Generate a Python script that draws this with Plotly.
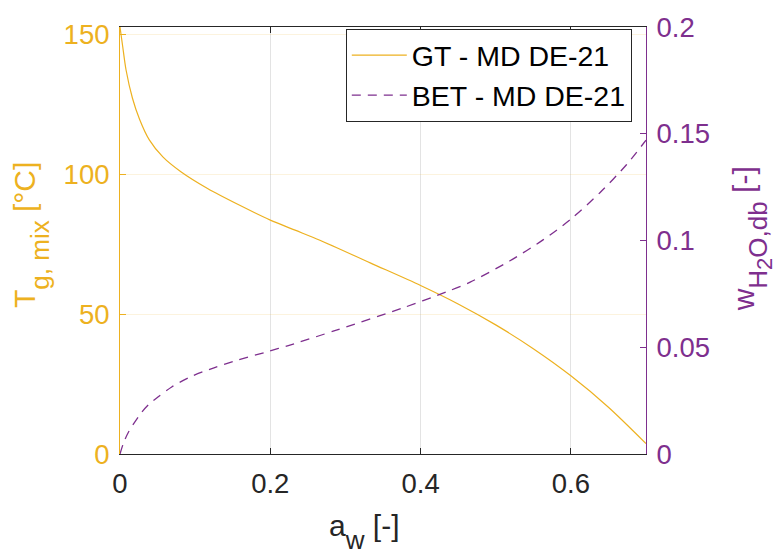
import plotly.graph_objects as go

# Glass transition temperature (Gordon-Taylor) vs water activity
aw_gt = [0.0, 0.0035, 0.008, 0.0165, 0.026, 0.039, 0.057, 0.081, 0.1165, 0.160,
         0.200, 0.233, 0.266, 0.333, 0.400, 0.450, 0.500, 0.550, 0.600, 0.650, 0.700]
tg_mix = [152.8, 146.0, 137.5, 127.4, 119.8, 112.4, 106.3, 101.0, 95.0, 88.9,
          83.7, 80.1, 76.5, 68.4, 60.3, 53.7, 46.2, 37.7, 28.0, 16.75, 3.75]

# Sorption isotherm (BET) vs water activity
aw_bet = [0.0, 0.0044, 0.011, 0.0266, 0.0377, 0.051, 0.0688, 0.0954, 0.126, 0.157,
          0.193, 0.224, 0.288, 0.377, 0.435, 0.466, 0.519, 0.563, 0.600, 0.639,
          0.674, 0.700]
w_h2o = [0.0, 0.0049, 0.0101, 0.0185, 0.0230, 0.0268, 0.0314, 0.0364, 0.0405, 0.0440,
         0.0476, 0.0508, 0.0580, 0.0685, 0.0760, 0.0805, 0.0905, 0.1003, 0.1100, 0.1225,
         0.1355, 0.1470]

x_ticks = [0, 0.2, 0.4, 0.6]
x_tick_text = ["0", "0.2", "0.4", "0.6"]
left_ticks = [0, 50, 100, 150]
right_ticks = [0, 0.05, 0.1, 0.15, 0.2]

ORANGE = "#EDB120"
PURPLE = "#7E2F8E"
DARK = "#262626"
FONT = "Liberation Sans, Arial, Helvetica, sans-serif"
TICK_SIZE = 27.5
TITLE_SIZE = 30
SUB_SIZE = 26


def sub(text, size=SUB_SIZE, drop=7):
    # subscript with a slightly larger size and deeper drop than the plotly default
    return (f'<sub><span style="font-size:{size}px;baseline-shift:-{drop}px">'
            f'{text}</span></sub>')


fig = go.Figure()
fig.add_trace(go.Scatter(
    x=aw_gt, y=tg_mix, mode="lines", name="GT - MD DE-21",
    line=dict(color=ORANGE, width=1.2, shape="spline", smoothing=0.8),
    yaxis="y"))
fig.add_trace(go.Scatter(
    x=aw_bet, y=w_h2o, mode="lines", name="BET - MD DE-21",
    line=dict(color=PURPLE, width=1.3, dash="9px,7px", shape="spline", smoothing=0.8),
    yaxis="y2"))

fig.update_layout(
    width=782, height=554,
    margin=dict(l=120, r=136, t=14, b=100),
    paper_bgcolor="white", plot_bgcolor="white",
    font=dict(family=FONT, size=TICK_SIZE, color=DARK),
    showlegend=True,
    legend=dict(
        x=0.973, y=0.995, xanchor="right", yanchor="top",
        bgcolor="white", bordercolor=DARK, borderwidth=1,
        font=dict(family=FONT, size=28.5, color="black"),
        itemwidth=55, tracegroupgap=0,
    ),
    xaxis=dict(
        range=[0, 0.7], tickvals=x_ticks, ticktext=x_tick_text,
        ticks="inside", ticklen=6, tickcolor=DARK,
        showline=True, linecolor=DARK, linewidth=1, mirror="ticks",
        showgrid=True, gridcolor="#e3e3e3", gridwidth=1,
        zeroline=False, tickfont=dict(size=TICK_SIZE, color=DARK),
        ticklabelstandoff=5,
    ),
    yaxis=dict(
        range=[0, 152.8], tickvals=left_ticks,
        ticks="inside", ticklen=6, tickcolor=ORANGE,
        showline=True, linecolor=ORANGE, linewidth=1,
        showgrid=True, gridcolor="rgba(237,177,32,0.15)", gridwidth=1,
        zeroline=False, tickfont=dict(size=TICK_SIZE, color=ORANGE),
        ticklabelstandoff=4,
    ),
    yaxis2=dict(
        range=[0, 0.2], tickvals=right_ticks,
        overlaying="y", side="right",
        ticks="inside", ticklen=6, tickcolor=PURPLE,
        showline=True, linecolor=PURPLE, linewidth=1,
        showgrid=False, zeroline=False,
        tickfont=dict(size=TICK_SIZE, color=PURPLE),
        ticklabelstandoff=4,
    ),
)

# Axis titles
fig.add_annotation(
    text="a" + sub("w") + " [-]", xref="paper", yref="paper", x=0.464, y=-0.182,
    xanchor="center", yanchor="middle", showarrow=False,
    font=dict(family=FONT, size=TITLE_SIZE, color=DARK))
fig.add_annotation(
    text="T" + sub("g, mix") + " [°C]", xref="paper", yref="paper", x=-0.168, y=0.512,
    xanchor="center", yanchor="middle", textangle=-90, showarrow=False,
    font=dict(family=FONT, size=TITLE_SIZE, color=ORANGE))
fig.add_annotation(
    text="w" + sub("H" + '<sub><span style="font-size:22px">2</span></sub>' + "O,db") + " [-]",
    xref="paper", yref="paper", x=1.2015, y=0.505,
    xanchor="center", yanchor="middle", textangle=-90, showarrow=False,
    font=dict(family=FONT, size=TITLE_SIZE, color=PURPLE))

fig.write_html("out.html")
